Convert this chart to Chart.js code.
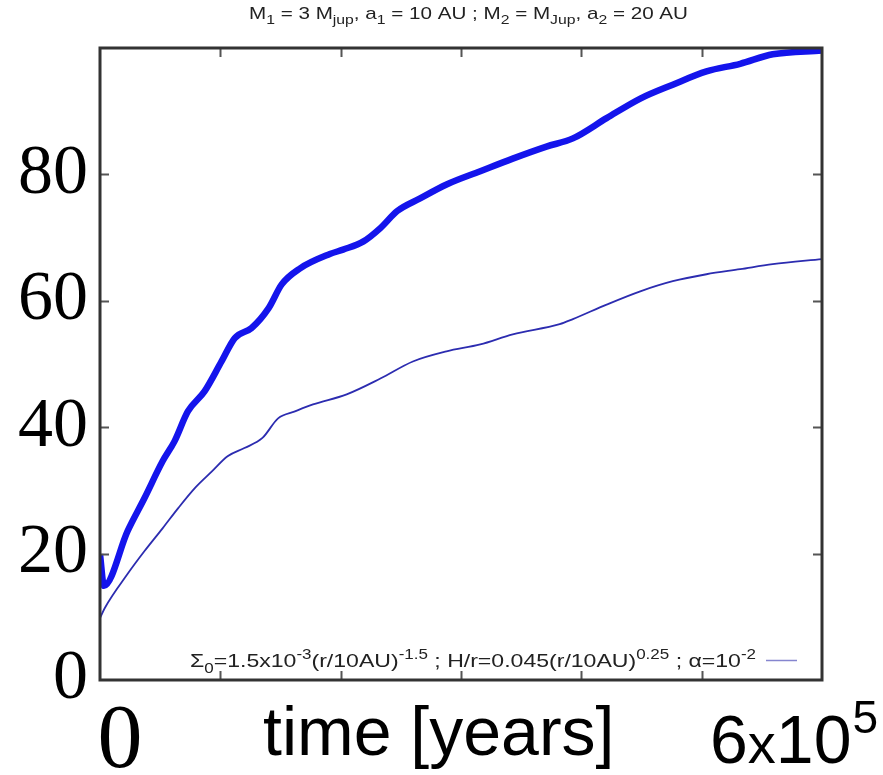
<!DOCTYPE html>
<html>
<head>
<meta charset="utf-8">
<script src="https://cdn.jsdelivr.net/npm/chart.js@4.4.1/dist/chart.umd.min.js"></script>
<style>
  html, body { margin: 0; padding: 0; background: #fff; }
  #wrap { width: 883px; height: 775px; }
</style>
</head>
<body>
<div id="wrap"><canvas id="plot" width="883" height="775"></canvas></div>
<script>
// time in units of 10^3 years
const upperTime  = [0, 3.3, 23, 37, 52, 62, 73, 87, 101, 112, 126, 140, 151, 166, 191, 202, 219, 233, 247, 266, 288, 316, 343, 371, 393, 421, 449, 476, 504, 532, 559, 600];
const upperValue = [19.9, 14.9, 23.6, 28.8, 34.6, 37.8, 42.5, 45.7, 50.4, 54.1, 55.7, 58.8, 62.6, 65.1, 67.4, 68.1, 69.4, 71.5, 74.2, 76.2, 78.4, 80.5, 82.5, 84.4, 85.7, 88.9, 92.0, 94.2, 96.3, 97.5, 99.0, 99.6];

const lowerTime  = [0, 4, 23, 37, 52, 65, 79, 93, 106, 120, 135, 148, 162, 177, 205, 233, 260, 288, 316, 343, 382, 393, 421, 449, 476, 504, 532, 559, 600];
const lowerValue = [9.8, 11.4, 16.8, 20.4, 24.0, 27.2, 30.4, 33.0, 35.4, 36.7, 38.3, 41.4, 42.5, 43.6, 45.2, 47.7, 50.4, 52.0, 53.1, 54.7, 56.3, 57.1, 59.4, 61.5, 63.1, 64.2, 65.0, 65.8, 66.6];

const yTicks = [0, 20, 40, 60, 80];
const xInnerTicks = [100, 200, 300, 400, 500];

const titleParts = [['M', ''], ['1', 'sub'], [' = 3 M', ''], ['jup', 'sub'], [', a', ''], ['1', 'sub'],
    [' = 10 AU ; M', ''], ['2', 'sub'], [' = M', ''], ['Jup', 'sub'], [', a', ''], ['2', 'sub'], [' = 20 AU', '']];
const legendParts = [['Σ', ''], ['0', 'sub'], ['=1.5x10', ''], ['-3', 'sup'], ['(r/10AU)', ''], ['-1.5', 'sup'],
    [' ; H/r=0.045(r/10AU)', ''], ['0.25', 'sup'], [' ; α=10', ''], ['-2', 'sup']];

const sansFamily = '"Liberation Sans", Arial, sans-serif';

function toPoints(xs, ys) {
    return xs.map((x, i) => ({ x: x, y: ys[i] }));
}

// text with sub/superscripts, squeezed or stretched to span x0..x1
function drawRich(ctx, parts, x0, x1, y, size) {
    const small = Math.round(size * 0.75);
    let total = 0;
    parts.forEach(p => {
        ctx.font = (p[1] ? small : size) + 'px ' + sansFamily;
        total += ctx.measureText(p[0]).width;
    });
    ctx.save();
    ctx.translate(x0, y);
    ctx.scale((x1 - x0) / total, 1);
    ctx.textAlign = 'left';
    ctx.textBaseline = 'alphabetic';
    let cx = 0;
    parts.forEach(p => {
        ctx.font = (p[1] ? small : size) + 'px ' + sansFamily;
        let dy = 0;
        if (p[1] === 'sub') dy = size * 0.3;
        if (p[1] === 'sup') dy = -size * 0.42;
        ctx.fillText(p[0], cx, dy);
        cx += ctx.measureText(p[0]).width;
    });
    ctx.restore();
}

const decorations = {
    id: 'decorations',
    afterDatasetsDraw(chart) {
        const ctx = chart.ctx;
        const area = chart.chartArea;
        const xs = chart.scales.x;
        const ys = chart.scales.y;
        ctx.save();

        // inward ticks on all four sides
        ctx.strokeStyle = '#555';
        ctx.lineWidth = 2;
        yTicks.slice(1).forEach(v => {
            const py = Math.round(ys.getPixelForValue(v)) + 0.5;
            ctx.beginPath();
            ctx.moveTo(area.left, py); ctx.lineTo(area.left + 9, py);
            ctx.moveTo(area.right, py); ctx.lineTo(area.right - 9, py);
            ctx.stroke();
        });
        xInnerTicks.forEach(v => {
            const px = Math.round(xs.getPixelForValue(v)) + 0.5;
            ctx.beginPath();
            ctx.moveTo(px, area.top); ctx.lineTo(px, area.top + 9);
            ctx.moveTo(px, area.bottom); ctx.lineTo(px, area.bottom - 9);
            ctx.stroke();
        });

        // frame
        ctx.strokeStyle = '#333';
        ctx.lineWidth = 3;
        ctx.strokeRect(area.left, area.top, area.right - area.left, area.bottom - area.top);

        // title
        ctx.fillStyle = '#222';
        drawRich(ctx, titleParts, 249, 688, 19, 17);

        // key
        drawRich(ctx, legendParts, 190, 756, 667, 19);
        ctx.strokeStyle = '#8585cf';
        ctx.lineWidth = 1.5;
        ctx.beginPath();
        ctx.moveTo(766, 660.5); ctx.lineTo(797, 660.5);
        ctx.stroke();

        // bottom labels
        ctx.fillStyle = '#000';
        ctx.textBaseline = 'alphabetic';
        ctx.textAlign = 'center';
        ctx.font = '90px "Liberation Serif", "Times New Roman", serif';
        ctx.fillText('0', xs.getPixelForValue(0) + 20, 767);
        ctx.textAlign = 'left';
        ctx.font = '68px ' + sansFamily;
        ctx.fillText('time [years]', 263, 755);
        let x6 = 710;
        ctx.fillText('6', x6, 763);
        x6 += ctx.measureText('6').width;
        ctx.font = '56px ' + sansFamily;
        ctx.fillText('x', x6, 763);
        x6 += ctx.measureText('x').width;
        ctx.font = '68px ' + sansFamily;
        ctx.fillText('10', x6, 763);
        x6 += ctx.measureText('10').width;
        ctx.font = '46px ' + sansFamily;
        ctx.fillText('5', x6 + 1, 733);

        ctx.restore();
    }
};

new Chart(document.getElementById('plot'), {
    type: 'line',
    data: {
        datasets: [{
            data: toPoints(upperTime, upperValue),
            borderColor: '#1414ec',
            borderWidth: 6.5,
            pointRadius: 0,
            cubicInterpolationMode: 'monotone',
            fill: false
        }, {
            data: toPoints(lowerTime, lowerValue),
            borderColor: '#2c2cb0',
            borderWidth: 1.8,
            pointRadius: 0,
            cubicInterpolationMode: 'monotone',
            fill: false
        }]
    },
    options: {
        responsive: false,
        animation: false,
        events: [],
        layout: { padding: { left: 0, right: 61, top: 48, bottom: 95 } },
        plugins: { legend: { display: false }, title: { display: false }, tooltip: { enabled: false } },
        scales: {
            x: { type: 'linear', min: 0, max: 600, display: false },
            y: {
                min: 0, max: 100,
                afterFit(scale) {
                    scale.width = 100;
                    scale.paddingTop = 0;
                    scale.paddingBottom = 0;
                },
                border: { display: false },
                grid: { display: false, drawTicks: false },
                ticks: {
                    stepSize: 20,
                    padding: 12,
                    color: '#000',
                    font: { family: '"Liberation Serif", "Times New Roman", serif', size: 70 },
                    callback: v => yTicks.includes(v) ? String(v) : ''
                }
            }
        }
    },
    plugins: [decorations]
});
</script>
</body>
</html>
